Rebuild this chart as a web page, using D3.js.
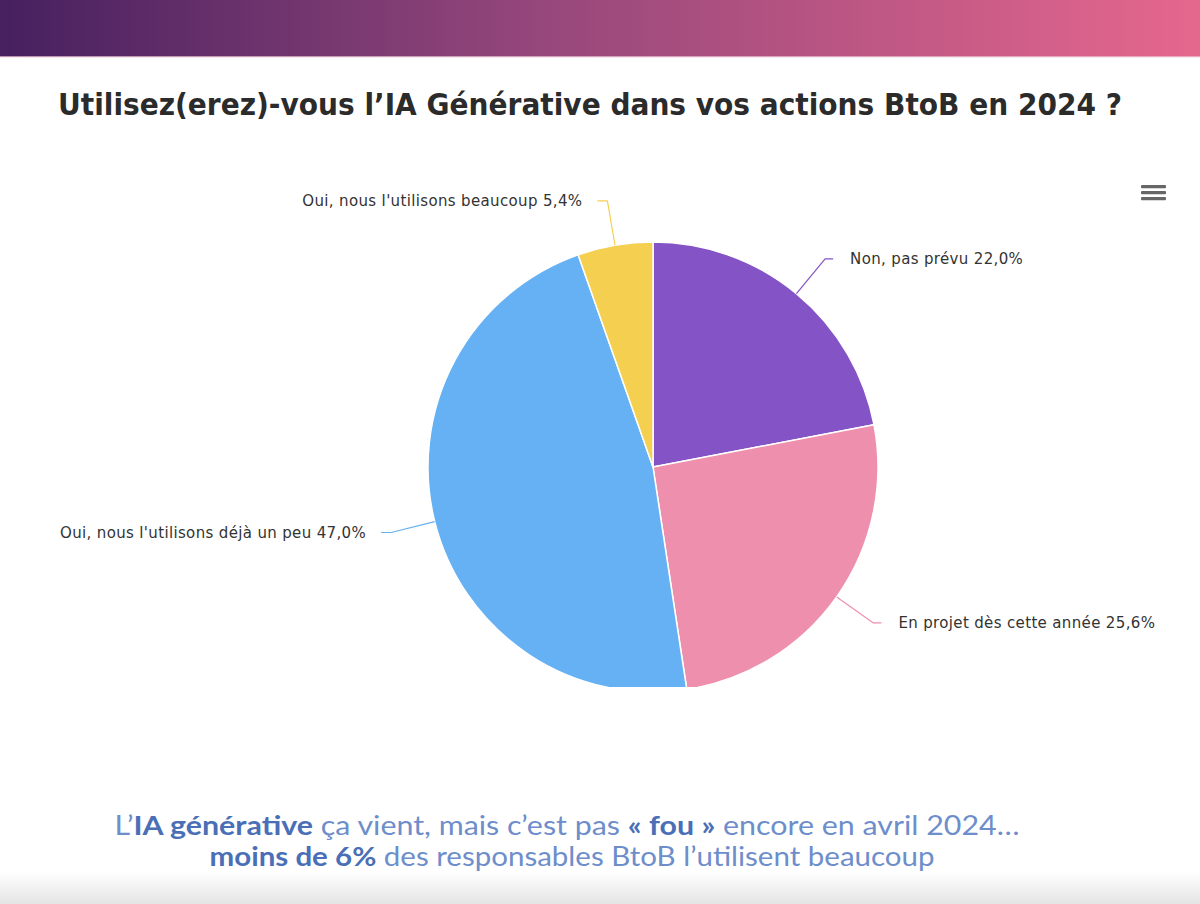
<!DOCTYPE html>
<html><head><meta charset="utf-8">
<script src="https://cdn.jsdelivr.net/npm/d3@7"></script>
<style>html,body{margin:0;padding:0;background:#fff;}svg{display:block;}</style>
</head><body>
<svg id="c" width="1200" height="904"></svg>
<script>
const categories = ["Non, pas prévu", "En projet dès cette année", "Oui, nous l'utilisons déjà un peu", "Oui, nous l'utilisons beaucoup"];
const values = [22.0, 25.6, 47.0, 5.4];
const valueLabels = ["22,0%", "25,6%", "47,0%", "5,4%"];
const colors = ["#8453c6", "#ef8fae", "#65b1f3", "#f5cf4f"];
const title = "Utilisez(erez)-vous l’IA Générative dans vos actions BtoB en 2024 ?";

const W = 1200, H = 904;
const svg = d3.select("#c");
const defs = svg.append("defs");

// header gradient
const hg = defs.append("linearGradient").attr("id","hg").attr("x1","0").attr("x2","1").attr("y1","0").attr("y2","0");
hg.append("stop").attr("offset","0").attr("stop-color","#46205f");
hg.append("stop").attr("offset","0.45").attr("stop-color","#96477b");
hg.append("stop").attr("offset","1").attr("stop-color","#e5678d");
svg.append("rect").attr("x",0).attr("y",0).attr("width",W).attr("height",57).attr("fill","url(#hg)");
svg.append("rect").attr("x",0).attr("y",56).attr("width",W).attr("height",1.5).attr("fill","#e9c7d6").attr("opacity",0.7);

// bottom faint gradient
const bg = defs.append("linearGradient").attr("id","bg").attr("x1","0").attr("x2","0").attr("y1","0").attr("y2","1");
bg.append("stop").attr("offset","0").attr("stop-color","#ffffff");
bg.append("stop").attr("offset","1").attr("stop-color","#e4e4e4");
svg.append("rect").attr("x",0).attr("y",872).attr("width",W).attr("height",32).attr("fill","url(#bg)");

// title
svg.append("text").attr("x",58).attr("y",115)
  .attr("font-family","'DejaVu Sans', sans-serif").attr("font-weight","bold").attr("font-size",30)
  .attr("fill","#2b2b2b").attr("textLength",1064).attr("lengthAdjust","spacingAndGlyphs")
  .text(title);

// menu icon
const menu = svg.append("g").attr("transform","translate(1141,185)");
[0,6,12].forEach(dy => menu.append("rect").attr("x",0).attr("y",dy).attr("width",25).attr("height",3.2).attr("rx",1).attr("fill","#666"));

// pie
const cx = 653, cy = 467, r = 225;
defs.append("clipPath").attr("id","clip").append("rect").attr("x",0).attr("y",0).attr("width",W).attr("height",687);
const pie = d3.pie().sort(null).value(d => d.v).startAngle(0).endAngle(2*Math.PI);
const data = categories.map((c,i) => ({c, v: values[i], lab: valueLabels[i], col: colors[i]}));
const arcs = pie(data);
const arc = d3.arc().innerRadius(0).outerRadius(r);
const g = svg.append("g").attr("clip-path","url(#clip)").append("g").attr("transform",`translate(${cx},${cy})`);
g.selectAll("path").data(arcs).join("path").attr("d",arc)
  .attr("fill",d => d.data.col).attr("stroke","#ffffff").attr("stroke-width",1.5).attr("stroke-linejoin","round");

// labels with connectors
const lg = svg.append("g").attr("transform",`translate(${cx},${cy})`);
const dist = 45;
arcs.forEach(a => {
  const m = (a.startAngle + a.endAngle)/2;
  const sx = Math.sin(m), sy = -Math.cos(m);
  const ex = r*sx, ey = r*sy;
  const ax = (r+dist)*sx, ay = (r+dist)*sy;
  const right = sx > 0;
  const hx = ax + (right ? 8 : -10);
  const p = d3.path();
  p.moveTo(ex, ey);
  p.lineTo(ax, ay);
  p.lineTo(hx, ay);
  lg.append("path").attr("d", p.toString()).attr("fill","none")
    .attr("stroke", a.data.col).attr("stroke-width",1.2).attr("stroke-linejoin","round");
  lg.append("text").attr("x", ax + (right ? 25 : -25)).attr("y", ay + 5)
    .attr("text-anchor", right ? "start" : "end")
    .attr("font-family","'DejaVu Sans', sans-serif").attr("font-size",15).attr("letter-spacing",0.35).attr("fill","#333")
    .text(a.data.c + " " + a.data.lab);
});

// bottom commentary
const light = "#6d8ecb", dark = "#4a6fb6";
const t1 = svg.append("text").attr("x",567).attr("y",835).attr("text-anchor","middle")
  .attr("font-family","Lato, sans-serif").attr("font-size",26).attr("fill",light)
  .attr("textLength",905).attr("lengthAdjust","spacingAndGlyphs");
t1.append("tspan").text("L’");
t1.append("tspan").attr("font-weight","bold").attr("fill",dark).text("IA générative");
t1.append("tspan").text(" ça vient, mais c’est pas ");
t1.append("tspan").attr("font-weight","bold").attr("fill",dark).text("« fou »");
t1.append("tspan").text(" encore en avril 2024…");
const t2 = svg.append("text").attr("x",572).attr("y",866).attr("text-anchor","middle")
  .attr("font-family","Lato, sans-serif").attr("font-size",26).attr("fill",light)
  .attr("textLength",725).attr("lengthAdjust","spacingAndGlyphs");
t2.append("tspan").attr("font-weight","bold").attr("fill",dark).text("moins de 6%");
t2.append("tspan").text(" des responsables BtoB l’utilisent beaucoup");
</script>
</body></html>
